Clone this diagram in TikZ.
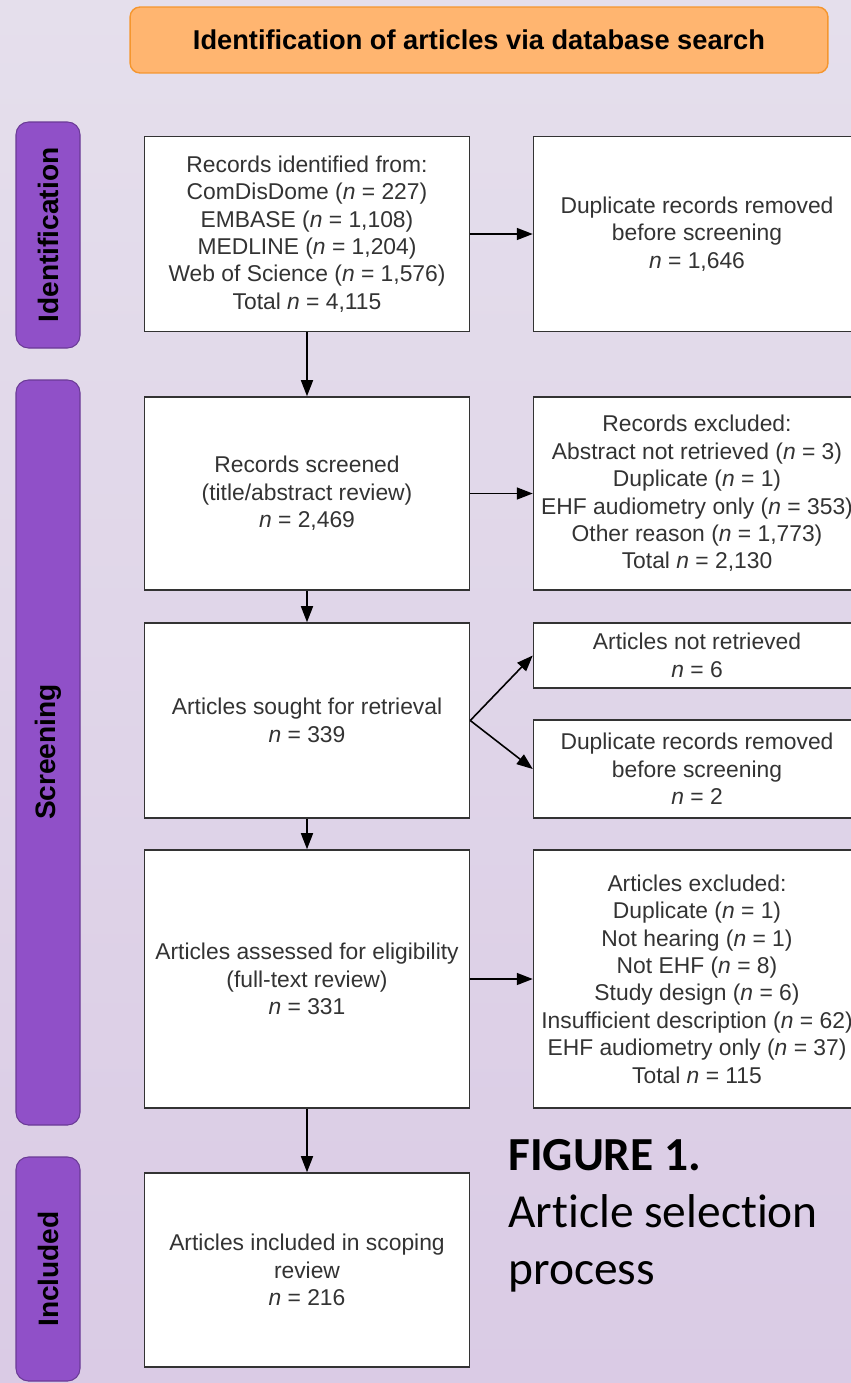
\documentclass[tikz,border=0pt]{standalone}
\usepackage{fontspec}
\setmainfont{Liberation Sans}
\newfontfamily\capfont[Ligatures=NoCommon]{Carlito}
\usetikzlibrary{arrows.meta}

\definecolor{bgtop}{HTML}{E5DFEC}
\definecolor{bgbot}{HTML}{DACBE5}
\definecolor{hdrfill}{HTML}{FFB570}
\definecolor{hdrline}{HTML}{F5962E}
\definecolor{phasefill}{HTML}{9050C8}
\definecolor{phaseline}{HTML}{6A3A96}
\definecolor{boxtext}{HTML}{333333}

\tikzset{
	flowbox/.style={draw=boxtext, line width=0.9pt, fill=white, text=boxtext, align=center,
		font=\fontsize{13}{15.6}\selectfont, inner sep=2pt},
	phasebox/.style={draw=phaseline, fill=phasefill, rounded corners=0.25cm, line width=0.6pt},
	phaselabel/.style={rotate=90, font=\fontsize{16}{18}\selectfont\bfseries, text=black},
	flowarrow/.style={-{Triangle[length=0.32cm,width=0.24cm]}, line width=0.9pt, black},
}

\begin{document}
\begin{tikzpicture}[x=0.02cm, y=-0.02cm]
		\useasboundingbox (0,0) rectangle (851,1383);
		\shade [top color=bgtop, bottom color=bgbot] (0,0) rectangle (851,1383);

		% header
		\node (header) [draw=hdrline, fill=hdrfill, rounded corners=0.2cm, line width=0.8pt,
			minimum width=13.96cm, minimum height=1.32cm, font=\fontsize{15.5}{18}\selectfont\bfseries]
			at (479,40) {Identification of articles via database search};

		% phases
		\draw [phasebox] (16,122) rectangle (80,348);
		\node [phaselabel] (idlab) at (48,235) {Identification};
		\draw [phasebox] (16,380) rectangle (80,1125);
		\node [phaselabel] (scrlab) at (48,752) {Screening};
		\draw [phasebox] (16,1157) rectangle (80,1381);
		\node [phaselabel] (inclab) at (48,1269) {Included};

		% main column
		\node (ident) [flowbox, minimum width=6.5cm, minimum height=3.9cm] at (307,234) {
			Records identified from:\\
			ComDisDome (\textit{n} = 227)\\
			EMBASE (\textit{n} = 1,108)\\
			MEDLINE (\textit{n} = 1,204)\\
			Web of Science (\textit{n} = 1,576)\\
			Total \textit{n} = 4,115};
		\node (screened) [flowbox, minimum width=6.5cm, minimum height=3.86cm] at (307,493.5) {
			Records screened\\
			(title/abstract review)\\
			\textit{n} = 2,469};
		\node (sought) [flowbox, minimum width=6.5cm, minimum height=3.9cm] at (307,720.5) {
			Articles sought for retrieval\\
			\textit{n} = 339};
		\node (assessed) [flowbox, minimum width=6.5cm, minimum height=5.16cm] at (307,979) {
			Articles assessed for eligibility\\
			(full-text review)\\
			\textit{n} = 331};
		\node (included) [flowbox, minimum width=6.5cm, minimum height=3.88cm] at (307,1270) {
			Articles included in scoping\\
			review\\
			\textit{n} = 216};

		% side column
		\node (dupl) [flowbox, minimum width=6.54cm, minimum height=3.9cm] at (697,234) {
			Duplicate records removed\\
			before screening\\
			\textit{n} = 1,646};
		\node (recexcl) [flowbox, minimum width=6.54cm, minimum height=3.86cm] at (697,493.5) {
			Records excluded:\\
			Abstract not retrieved (\textit{n} = 3)\\
			Duplicate (\textit{n} = 1)\\
			EHF audiometry only (\textit{n} = 353)\\
			Other reason (\textit{n} = 1,773)\\
			Total \textit{n} = 2,130};
		\node (notret) [flowbox, minimum width=6.54cm, minimum height=1.3cm] at (697,655.5) {
			Articles not retrieved\\
			\textit{n} = 6};
		\node (dupl2) [flowbox, minimum width=6.54cm, minimum height=1.96cm] at (697,769) {
			Duplicate records removed\\
			before screening\\
			\textit{n} = 2};
		\node (artexcl) [flowbox, minimum width=6.54cm, minimum height=5.16cm] at (697,979) {
			Articles excluded:\\
			Duplicate (\textit{n} = 1)\\
			Not hearing (\textit{n} = 1)\\
			Not EHF (\textit{n} = 8)\\
			Study design (\textit{n} = 6)\\
			Insufficient description (\textit{n} = 62)\\
			EHF audiometry only (\textit{n} = 37)\\
			Total \textit{n} = 115};

		% caption
		\node (caption) [anchor=north west, align=left, inner sep=0pt, text=black,
			font=\capfont\fontsize{27}{32.4}\selectfont] at (508,1139) {
			\textbf{FIGURE 1.}\\
			Article selection\\
			process};

		% arrows
		\draw [flowarrow] (ident) -- (screened);
		\draw [flowarrow] (screened) -- (sought);
		\draw [flowarrow] (sought) -- (assessed);
		\draw [flowarrow] (assessed) -- (included);
		\draw [flowarrow] (ident) -- (dupl);
		\draw [flowarrow] (screened) -- (recexcl);
		\draw [flowarrow] (sought.east) -- (notret.west);
		\draw [flowarrow] (sought.east) -- (dupl2.west);
		\draw [flowarrow] (assessed) -- (artexcl);
	\end{tikzpicture}
\end{document}
